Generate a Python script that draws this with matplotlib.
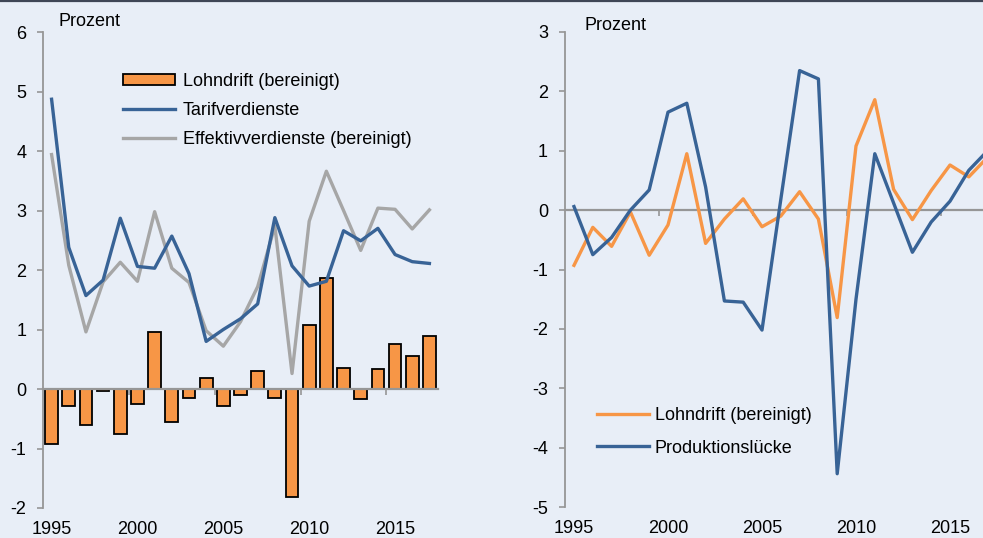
import numpy as np
import matplotlib
matplotlib.use("Agg")
import matplotlib.pyplot as plt
from matplotlib.lines import Line2D

plt.rcParams['font.family'] = ['Liberation Sans', 'DejaVu Sans']
plt.rcParams['axes.unicode_minus'] = False

# data (percent)
years = list(range(1995, 2018))
lohndrift = [-0.93, -0.29, -0.61, -0.03, -0.76, -0.25, 0.95, -0.56, -0.15, 0.19, -0.28, -0.10,
             0.31, -0.15, -1.81, 1.08, 1.86, 0.35, -0.16, 0.33, 0.76, 0.56, 0.89]
tarif = [4.87, 2.38, 1.57, 1.83, 2.87, 2.06, 2.03, 2.57, 1.94, 0.80, 1.00, 1.18, 1.43, 2.88,
         2.07, 1.73, 1.81, 2.66, 2.49, 2.70, 2.26, 2.14, 2.11]
effektiv = [3.94, 2.08, 0.96, 1.80, 2.13, 1.81, 2.98, 2.03, 1.79, 0.98, 0.72, 1.13, 1.72, 2.74,
            0.26, 2.82, 3.66, 3.00, 2.33, 3.04, 3.02, 2.69, 3.01]
prodluecke = [0.06, -0.75, -0.46, 0.0, 0.34, 1.65, 1.80, 0.39, -1.53, -1.55, -2.02, 0.18,
              2.35, 2.21, -4.44, -1.50, 0.95, 0.12, -0.71, -0.20, 0.15, 0.67, 1.0]

tick_years = [1995, 2000, 2005, 2010, 2015]
sep_ticks = [1999.5, 2004.5, 2009.5, 2014.5]

# colours
bg = '#E8EEF7'
orange = '#F79646'
blue = '#386396'
grey = '#A6A6A6'
axcol = '#969696'
fs = 13

W, H = 983, 538
fig = plt.figure(figsize=(W / 100, H / 100), dpi=100, facecolor=bg)
fig.add_artist(Line2D([0, 1], [1 - 1.2 / H, 1 - 1.2 / H], transform=fig.transFigure,
                      color='#3F4656', lw=1.6))


def style(ax, ylim, yticks):
    ax.set_facecolor(bg)
    ax.set_xlim(1994.5, 2017.5)
    ax.set_ylim(*ylim)
    ax.set_yticks(yticks)
    for s in ['top', 'right']:
        ax.spines[s].set_visible(False)
    ax.spines['left'].set_color(axcol)
    ax.spines['left'].set_linewidth(1.3)
    ax.spines['bottom'].set_position(('data', 0))
    ax.spines['bottom'].set_color(axcol)
    ax.spines['bottom'].set_linewidth(1.6)
    ax.spines['bottom'].set_zorder(1.5)
    ax.set_xticks([])
    ax.set_xticks(sep_ticks, minor=True)
    ax.tick_params(axis='x', which='minor', direction='out', length=4, width=1.2,
                   color=axcol, labelbottom=False)
    ax.tick_params(axis='y', direction='out', length=4, width=1.2, color=axcol,
                   labelsize=fs, pad=8)
    sec = ax.secondary_xaxis('bottom')
    sec.set_xticks(tick_years)
    sec.tick_params(length=0, labelsize=fs, pad=9.5)
    sec.spines['bottom'].set_visible(False)


# left panel
ax1 = fig.add_axes([43 / W, 1 - 508 / H, 395 / W, 476 / H])
style(ax1, (-2, 6), range(-2, 7))
b = ax1.bar(years, lohndrift, width=0.74, color=orange, edgecolor='black', linewidth=1.3,
            label='Lohndrift (bereinigt)', zorder=1)
l1, = ax1.plot(years, tarif, color=blue, lw=2.4, label='Tarifverdienste', zorder=3)
l2, = ax1.plot(years, effektiv, color=grey, lw=2.4, label='Effektivverdienste (bereinigt)',
               zorder=2.8)
ax1.text(58 / W, 1 - 22 / H, 'Prozent', transform=fig.transFigure, fontsize=fs, va='center')
ax1.legend(handles=[b, l1, l2], loc='upper left', bbox_to_anchor=(123 / W, 1 - 73 / H),
           bbox_transform=fig.transFigure, frameon=False, fontsize=fs, borderpad=0,
           borderaxespad=0, handlelength=2.9, handleheight=0.55, handletextpad=0.4,
           labelspacing=0.67)

# right panel
ax2 = fig.add_axes([564.6 / W, 1 - 507 / H, 432.4 / W, 475 / H])
style(ax2, (-5, 3), range(-5, 4))
ax2.plot(years, lohndrift, color=orange, lw=2.4, label='Lohndrift (bereinigt)', zorder=3)
ax2.plot(years, prodluecke, color=blue, lw=2.4, label='Produktionslücke', zorder=3.1)
ax2.text(585 / W, 1 - 25 / H, 'Prozent', transform=fig.transFigure, fontsize=fs, va='center')
ax2.legend(loc='upper left', bbox_to_anchor=(597 / W, 1 - 407 / H), bbox_transform=fig.transFigure,
           frameon=False, fontsize=fs, borderpad=0, borderaxespad=0, handlelength=2.9,
           handletextpad=0.3, labelspacing=0.86)

fig.savefig('out.png', dpi=100, facecolor=bg)
